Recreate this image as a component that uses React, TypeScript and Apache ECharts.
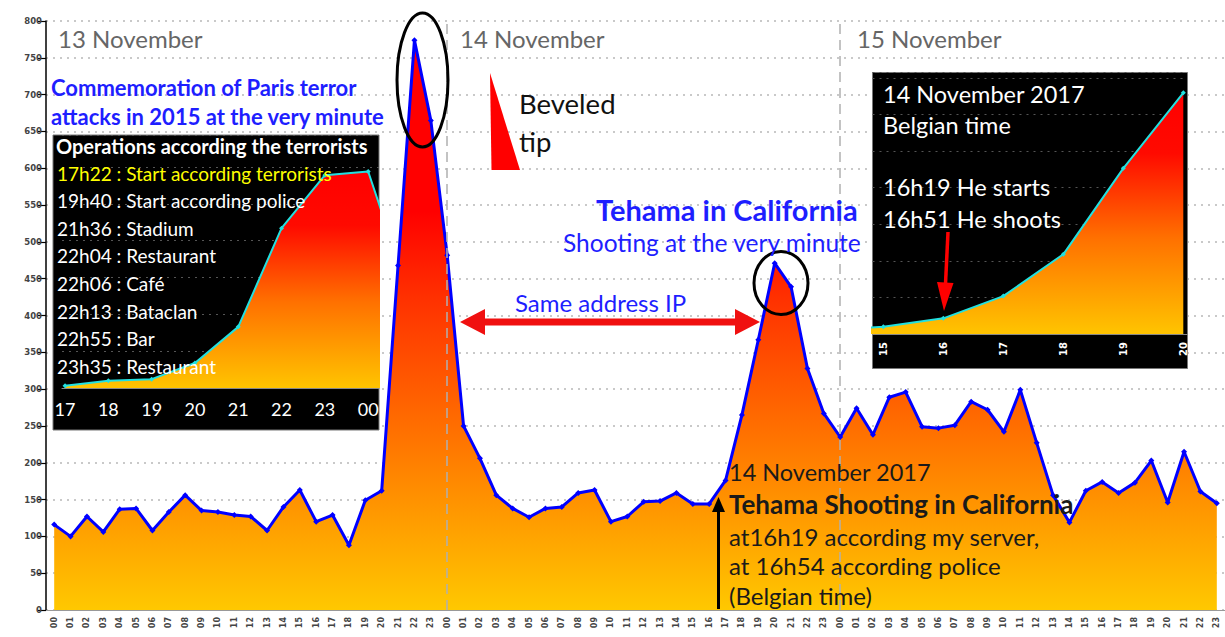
import React, { useEffect, useRef } from "react";
import * as echarts from "echarts";

// ---------- DATA ----------
const hourLabels = ["00","01","02","03","04","05","06","07","08","09","10","11","12","13","14","15","16","17","18","19","20","21","22","23"];
const dayNames = ["13 November", "14 November", "15 November"];
const hits13 = [116,100,127,106,137,138,108,133,156,135,133,129,127,108,140,163,120,129,88,149,162,468,774,665];
const hits14 = [482,250,206,156,138,126,138,140,159,163,120,127,147,148,159,144,144,176,265,367,471,439,328,267];
const hits15 = [235,274,238,289,296,249,247,251,283,272,242,299,227,156,119,162,174,159,173,203,146,215,161,145];
const yTicks = { min: 0, max: 800, step: 50 };

// Paris inset (13 Nov 2015 evening)
const parisHours = [17,18,19,20,21,22,23,24,25];
const parisHits = [303,310,312,334,383,517,589,594,418];
const parisTickHours = [17,18,19,20,21,22,23,24];
const parisEvents = [
  "17h22 : Start according terrorists",
  "19h40 : Start according police",
  "21h36 : Stadium",
  "22h04 : Restaurant",
  "22h06 : Café",
  "22h13 : Bataclan",
  "22h55 : Bar",
  "23h35 : Restaurant",
];

// Tehama inset (14 Nov 2017 afternoon)
const tehamaHours = [14,15,16,17,18,19,20];
const tehamaHits = [1.2,2.8,6.0,14.5,30.5,63.4,92.3];
const tehamaTickHours = [15,16,17,18,19,20];

const categories = [0,1,2].flatMap(() => hourLabels);
const hits = [...hits13, ...hits14, ...hits15];

const FONT = "Lato, 'Open Sans', sans-serif";

function txt(x: number, y: number, text: string, size: number, fill: string, weight: string = "normal", z = 20) {
  return {
    type: "text", x, y, z,
    style: {
      text, fill, fontSize: size, fontFamily: FONT, fontWeight: weight,
      textAlign: "left", textVerticalAlign: "middle", align: "left", verticalAlign: "middle",
    },
  };
}

function mainGradient() {
  return new echarts.graphic.LinearGradient(0, 0, 0, 1, [
    { offset: 0, color: "#ff0000" },
    { offset: 0.3, color: "#ff0000" },
    { offset: 0.45, color: "#ff3000" },
    { offset: 0.7, color: "#ff7400" },
    { offset: 1, color: "#ffc800" },
  ]);
}
function insetGradient() {
  return new echarts.graphic.LinearGradient(0, 0, 0, 1, [
    { offset: 0, color: "#ff0000" },
    { offset: 0.25, color: "#ff0a00" },
    { offset: 0.6, color: "#ff7000" },
    { offset: 1, color: "#ffc400" },
  ]);
}

export default function App() {
  const ref = useRef<HTMLDivElement>(null);
  useEffect(() => {
    if (!ref.current) return;
    const chart = echarts.init(ref.current, undefined, { renderer: "svg" });

    const graphics: any[] = [];
    // day labels
    const dayX = [58, 460, 857];
    dayNames.forEach((d, i) => graphics.push(txt(dayX[i], 38, d, 24, "#666666")));
    // blue commemoration
    graphics.push(txt(51, 87, "Commemoration of Paris terror", 22, "#1e1eff", "bold"));
    graphics.push(txt(51, 116, "attacks in 2015 at the very minute", 22, "#1e1eff", "bold"));
    // left inset box
    graphics.push({ type: "rect", z: 1, shape: { x: 53, y: 135, width: 326, height: 295 }, style: { fill: "#000", stroke: "#777", lineWidth: 1 } });
    graphics.push(txt(56, 145.5, "Operations according the terrorists", 20, "#ffffff", "bold"));
    parisEvents.forEach((e, i) => graphics.push(txt(57, 173 + i * 27.6, e, 19, i === 0 ? "#ffff00" : "#ffffff")));
    // ellipses
    graphics.push({ type: "ellipse", z: 15, shape: { cx: 422.5, cy: 80, rx: 25.5, ry: 67 }, style: { fill: "none", stroke: "#000", lineWidth: 3 } });
    graphics.push({ type: "ellipse", z: 15, shape: { cx: 781, cy: 283, rx: 27, ry: 31.5 }, style: { fill: "none", stroke: "#000", lineWidth: 3 } });
    // beveled tip
    graphics.push({ type: "polygon", z: 15, shape: { points: [[490, 73], [491.5, 170], [520, 170]] }, style: { fill: "#ff0000" } });
    graphics.push(txt(519, 103, "Beveled", 27.5, "#111"));
    graphics.push(txt(519, 141, "tip", 27.5, "#111"));
    // Tehama labels
    graphics.push(txt(596, 209, "Tehama in California", 29, "#1e1eff", "bold"));
    graphics.push(txt(563, 242, "Shooting at the very minute", 24.5, "#1e1eff"));
    graphics.push(txt(515, 302, "Same address IP", 24, "#1e1eff"));
    // red double arrow
    graphics.push({
      type: "polygon", z: 15,
      shape: { points: [[460, 322], [485, 309], [485, 318.5], [735, 318.5], [735, 309], [760, 322], [735, 335], [735, 325.5], [485, 325.5], [485, 335]] },
      style: { fill: "#f01010" },
    });
    // black arrow
    graphics.push({ type: "line", z: 15, shape: { x1: 718.5, y1: 609, x2: 718.5, y2: 508 }, style: { stroke: "#000", lineWidth: 3 } });
    graphics.push({ type: "polygon", z: 15, shape: { points: [[712, 512], [718.5, 497], [725, 512]] }, style: { fill: "#000" } });
    // text block
    graphics.push(txt(729, 472, "14 November 2017", 23.5, "#1a1a1a"));
    graphics.push(txt(729, 504, "Tehama Shooting in California", 26, "#1a1a1a", "bold"));
    graphics.push(txt(729, 536, "at16h19 according my server,", 24, "#1a1a1a"));
    graphics.push(txt(729, 565, "at 16h54 according police", 24, "#1a1a1a"));
    graphics.push(txt(729, 595, "(Belgian time)", 24, "#1a1a1a"));
    // right inset box
    graphics.push({ type: "rect", z: 1, shape: { x: 872.5, y: 72.5, width: 315, height: 296 }, style: { fill: "#000", stroke: "#777", lineWidth: 1 } });
    graphics.push(txt(883, 93.5, "14 November 2017", 23.5, "#ffffff"));
    graphics.push(txt(883, 125, "Belgian time", 23.5, "#ffffff"));
    graphics.push(txt(883, 187, "16h19 He starts", 23.5, "#ffffff"));
    graphics.push(txt(883, 218.5, "16h51 He shoots", 23.5, "#ffffff"));
    graphics.push({ type: "line", z: 15, shape: { x1: 948, y1: 232, x2: 945.5, y2: 284 }, style: { stroke: "#ff0000", lineWidth: 3.5 } });
    graphics.push({ type: "polygon", z: 15, shape: { points: [[937, 282], [953.5, 283], [944, 311]] }, style: { fill: "#ff0000" } });

    chart.setOption({
      animation: false,
      backgroundColor: "#ffffff",
      grid: [
        { left: 46, top: 21, width: 1181, height: 589, containLabel: false },
        { left: 62, top: 135, width: 317, height: 253, containLabel: false },
        { left: 872.5, top: 72.7, width: 315, height: 261.3, containLabel: false },
      ],
      xAxis: [
        {
          type: "category", gridIndex: 0, data: categories, boundaryGap: true,
          axisLine: { lineStyle: { color: "#999", width: 1 } },
          axisTick: { show: false },
          axisLabel: { interval: 0, rotate: 90, fontSize: 8, fontWeight: "bold", color: "#444", fontFamily: "'DejaVu Sans', sans-serif", margin: 7 },
          splitLine: { show: false },
        },
        {
          type: "value", gridIndex: 1, min: 16.93, max: 24.25, z: 2,
          axisLine: { show: true, onZero: false, lineStyle: { color: "#888" } },
          axisTick: { show: false },
          splitLine: { show: false },
          axisLabel: {
            customValues: parisTickHours, color: "#ffffff", fontSize: 18, fontFamily: FONT, margin: 12,
            formatter: (v: number) => (v === 24 ? "00" : String(v)),
          },
        },
        {
          type: "value", gridIndex: 2, min: 14.82, max: 20.07, z: 2,
          axisLine: { show: true, onZero: false, lineStyle: { color: "#888" } },
          axisTick: { show: false },
          splitLine: { show: false },
          axisLabel: {
            customValues: tehamaTickHours, color: "#ffffff", fontSize: 10, fontWeight: "bold", rotate: 90,
            fontFamily: "'DejaVu Sans', sans-serif", margin: 8,
            formatter: (v: number) => String(v),
          },
        },
      ],
      yAxis: [
        {
          type: "value", gridIndex: 0, min: yTicks.min, max: yTicks.max, interval: yTicks.step,
          axisLine: { show: true, lineStyle: { color: "#000", width: 1.5 } },
          axisTick: { show: true, length: 8, lineStyle: { color: "#000", width: 1.2 } },
          axisLabel: { fontSize: 8.5, fontWeight: "bold", color: "#444", fontFamily: "'DejaVu Sans', sans-serif", margin: 4 },
          splitLine: { show: true, lineStyle: { type: [2, 5], color: "#b8b8b8", width: 1.5 } },
        },
        {
          type: "value", gridIndex: 1, min: 300, max: 643.5, interval: 50, z: 2,
          axisLine: { show: false }, axisTick: { show: false }, axisLabel: { show: false },
          splitLine: { show: true, lineStyle: { type: [2, 5], color: "#555", width: 1.2 } },
        },
        {
          type: "value", gridIndex: 2, min: 0, max: 100, interval: 14, z: 2,
          axisLine: { show: false }, axisTick: { show: false }, axisLabel: { show: false },
          splitLine: { show: true, lineStyle: { type: [2, 5], color: "#555", width: 1.2 } },
        },
      ],
      series: [
        {
          type: "line", xAxisIndex: 0, yAxisIndex: 0, data: hits, z: 2,
          symbol: "diamond", symbolSize: 6,
          lineStyle: { color: "#0000ff", width: 3 },
          itemStyle: { color: "#0000ff" },
          areaStyle: { color: mainGradient(), opacity: 1 },
          markLine: {
            silent: true, symbol: ["none", "none"], label: { show: false },
            lineStyle: { color: "#b0b0b0", type: [10, 6], width: 1.5 },
            data: [{ xAxis: 24 }, { xAxis: 48 }],
          },
        },
        {
          type: "line", xAxisIndex: 1, yAxisIndex: 1, z: 3, clip: true,
          data: parisHours.map((h, i) => [h, parisHits[i]]),
          symbol: "diamond", symbolSize: 5,
          lineStyle: { color: "#22e0e0", width: 2 },
          itemStyle: { color: "#22e0e0" },
          areaStyle: { color: insetGradient(), opacity: 1 },
        },
        {
          type: "line", xAxisIndex: 2, yAxisIndex: 2, z: 3, clip: true,
          data: tehamaHours.map((h, i) => [h, tehamaHits[i]]),
          symbol: "diamond", symbolSize: 5,
          lineStyle: { color: "#22e0e0", width: 2 },
          itemStyle: { color: "#22e0e0" },
          areaStyle: { color: insetGradient(), opacity: 1 },
        },
      ],
      graphic: graphics,
    });
    return () => chart.dispose();
  }, []);
  return <div ref={ref} style={{ position: "fixed", left: 0, top: 0, width: 1225, height: 637 }} />;
}
